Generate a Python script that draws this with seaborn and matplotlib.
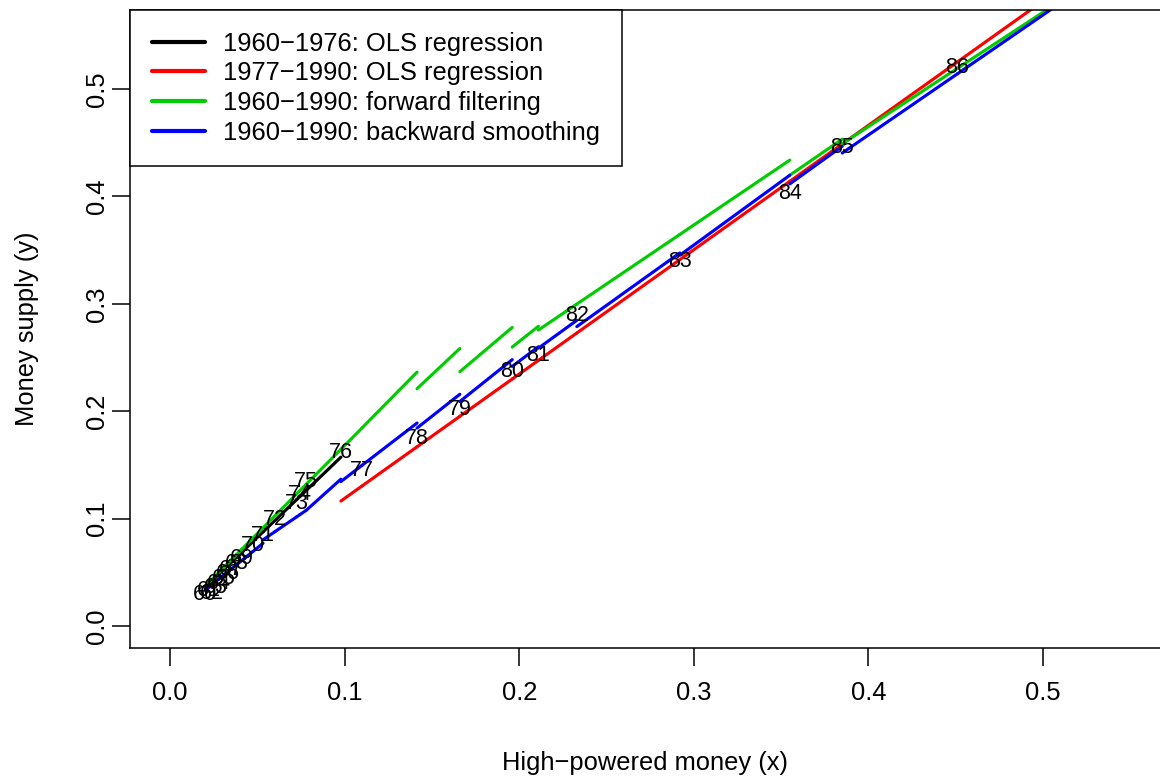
import numpy as np
import pandas as pd
import matplotlib
matplotlib.use("Agg")
import matplotlib.pyplot as plt
import seaborn as sns
from matplotlib.lines import Line2D

# Year labels (19xx) and the observed series
years = list(range(60, 88))
hpm = [0.020, 0.022, 0.024, 0.026, 0.028, 0.031, 0.033, 0.035, 0.038, 0.041,
       0.0475, 0.0533, 0.0601, 0.0727, 0.0745, 0.0779, 0.0979, 0.110, 0.1415, 0.166,
       0.196, 0.211, 0.233, 0.292, 0.355, 0.385, 0.451, 0.530]
msup = [0.029, 0.033, 0.030, 0.036, 0.040, 0.044, 0.049, 0.053, 0.058, 0.063,
        0.0745, 0.0847, 0.0987, 0.1145, 0.1229, 0.135, 0.162, 0.145, 0.175, 0.202,
        0.2374, 0.252, 0.289, 0.339, 0.403, 0.446, 0.520, 0.610]

# OLS fits: intercept, slope for 1960-76 and 1977-90
ols_a = [0.0045, 0.0030]
ols_b = [1.56, 1.158]
ols_break = 76

# time-varying coefficients for years 61..87 (segment from x[t-1] to x[t])
filt_a = [0.004] * 17 + [0.0032, 0.0049, 0.0085, 0.0069, 0.0437, 0.0437, 0.0437,
                         0.0229, 0.039, 0.039]
filt_b = [1.64] * 17 + [1.648, 1.527, 1.375, 1.29, 1.099, 1.099, 1.099,
                        1.118, 1.065, 1.065]
smooth_a = [0.0067] * 11 + [0.0211] * 4 + [-0.0062, 0.0121, 0.0121, 0.0028, -0.0068,
                                           0.0026, 0.0097, 0.0078, -0.0002, -0.0026,
                                           0.0100, 0.0100]
smooth_b = [1.32] * 11 + [1.11] * 4 + [1.46, 1.25, 1.25, 1.283, 1.30,
                                       1.22, 1.18, 1.163, 1.183, 1.167,
                                       1.118, 1.118]

labels = ["1960\u22121976: OLS regression", "1977\u22121990: OLS regression",
          "1960\u22121990: forward filtering", "1960\u22121990: backward smoothing"]
colors = ["black", "#FF0000", "#00CD00", "#0000FF"]

# build segments
rows = []
for k in range(1, len(years)):
    yr = years[k]
    x0, x1 = hpm[k - 1], hpm[k]
    i = 0 if yr <= ols_break else 1
    fits = [(labels[i], ols_a[i], ols_b[i]),
            (labels[2], filt_a[k - 1], filt_b[k - 1]),
            (labels[3], smooth_a[k - 1], smooth_b[k - 1])]
    for name, a, b in fits:
        for xx in (x0, x1):
            rows.append({"x": xx, "y": a + b * xx, "method": name, "seg": yr})
df = pd.DataFrame(rows)

sns.set_style("white")
plt.rcParams['font.family'] = ['Liberation Sans', 'DejaVu Sans']
plt.rcParams.update({"text.color": "black", "axes.labelcolor": "black",
                     "xtick.color": "black", "ytick.color": "black"})

fig = plt.figure(figsize=(11.6, 7.76), dpi=100)
ax = fig.add_axes([130 / 1160, 1 - 648 / 776, 1030 / 1160, 638 / 776])

xlim = (-0.0229, 0.567)
ylim = (-0.0205, 0.5736)

sns.lineplot(data=df, x="x", y="y", hue="method", hue_order=labels, palette=colors,
             units="seg", estimator=None, sort=False, lw=2.25, legend=False, ax=ax,
             solid_capstyle="round")

# year labels at the data points (points outside the window are clipped, as in R)
for yr, xx, yy in zip(years, hpm, msup):
    if xlim[0] <= xx <= xlim[1] and ylim[0] <= yy <= ylim[1]:
        ax.text(xx, yy, str(yr), ha="center", va="center", fontsize=15.5, clip_on=True)

ax.set_xlim(*xlim)
ax.set_ylim(*ylim)
ticks = np.arange(0, 0.51, 0.1)
ax.set_xticks(ticks)
ax.set_yticks(ticks)
ax.set_xticklabels([f"{t:.1f}" for t in ticks])
ax.set_yticklabels([f"{t:.1f}" for t in ticks], rotation=90, va="center")
ax.tick_params(direction="out", length=13, width=1.1, labelsize=18.4, color="black",
               left=True, bottom=True)
ax.tick_params(axis="x", pad=11)
ax.tick_params(axis="y", pad=2)
for side in ["left", "bottom", "top"]:
    ax.spines[side].set_color("black")
    ax.spines[side].set_linewidth(1.1)
ax.spines["right"].set_visible(False)

ax.set_xlabel("High\u2212powered money (x)", fontsize=18.4, labelpad=33)
ax.set_ylabel("Money supply (y)", fontsize=18.4, labelpad=33)

handles = [Line2D([], [], color=c, lw=3) for c in colors]
leg = ax.legend(handles, labels, loc="upper left", bbox_to_anchor=(0, 1),
                borderaxespad=0, fontsize=18.4, frameon=True, fancybox=False,
                handlelength=2.1, handletextpad=0.7, labelspacing=0.22, borderpad=0.85)
leg.get_frame().set_edgecolor("black")
leg.get_frame().set_linewidth(1.1)
leg.get_frame().set_alpha(1)

fig.savefig("out.png", dpi=100)
